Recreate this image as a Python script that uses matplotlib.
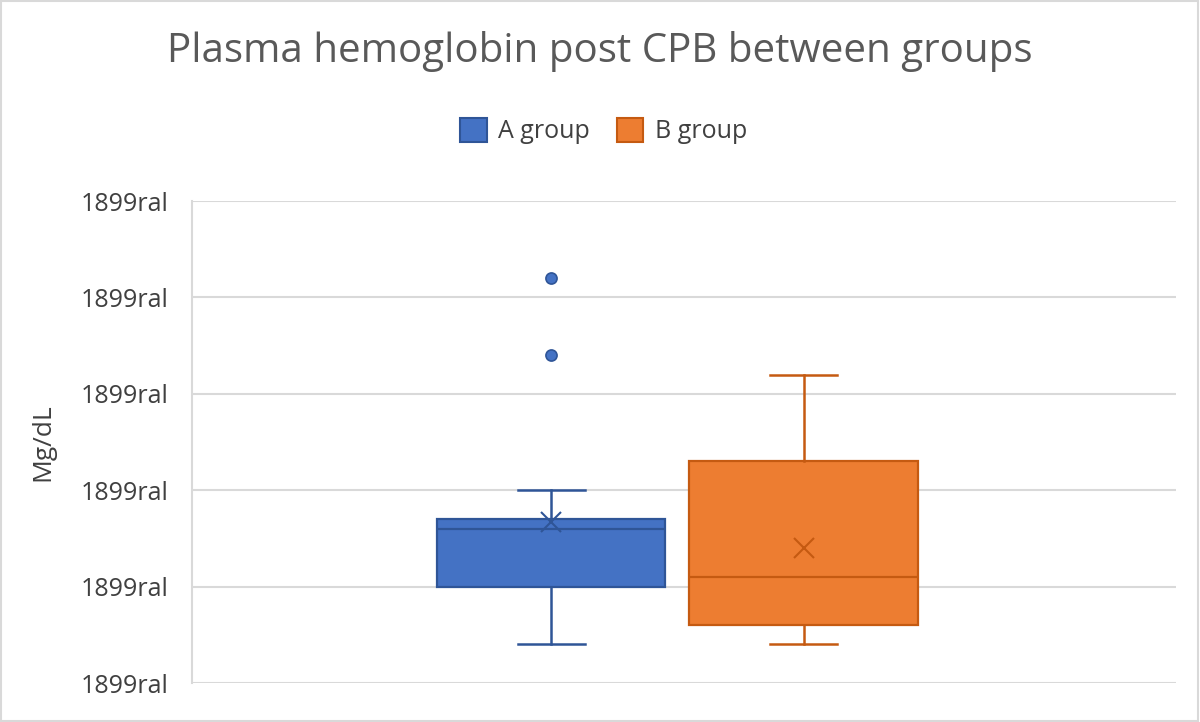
import matplotlib
matplotlib.use("Agg")
import matplotlib.pyplot as plt
from matplotlib.patches import Patch, Rectangle

# Box statistics (Excel-style box & whisker)
groups = ["A group", "B group"]
q1 = [1.0, 0.6]
med = [1.6, 1.1]
q3 = [1.7, 2.3]
means = [1.67, 1.40]
whis_lo = [0.4, 0.4]
whis_hi = [2.0, 3.2]
outliers = [[4.2, 3.4], []]
ytick_vals = [0, 1, 2, 3, 4, 5]
ytick_labels = ["1899ral"] * 6

fills = ["#4472C4", "#ED7D31"]
edges = ["#2F5597", "#C55A11"]
positions = [0.365, 0.6215]
box_w = 0.232

plt.rcParams["font.family"] = ["Open Sans", "DejaVu Sans"]

fig = plt.figure(figsize=(12, 7.22), dpi=100)
ax = fig.add_axes([0.16, 0.054, 0.82, 0.6676])

# outer chart border
fig.patches.append(Rectangle((0.001, 0.001), 0.997, 0.997, transform=fig.transFigure,
                             fill=False, edgecolor="#D9D9D9", linewidth=1.5))

stats = []
for i in range(len(groups)):
    stats.append({"label": groups[i], "q1": q1[i], "med": med[i], "q3": q3[i],
                  "mean": means[i], "whislo": whis_lo[i], "whishi": whis_hi[i],
                  "fliers": outliers[i]})

for i, s in enumerate(stats):
    ax.bxp([s], positions=[positions[i]], widths=box_w, patch_artist=True,
           showmeans=True, showfliers=True, manage_ticks=False,
           boxprops=dict(facecolor=fills[i], edgecolor=edges[i], linewidth=1.6),
           medianprops=dict(color=edges[i], linewidth=1.6),
           whiskerprops=dict(color=edges[i], linewidth=1.8),
           capprops=dict(color=edges[i], linewidth=1.8),
           capwidths=0.068,
           meanprops=dict(marker="x", markeredgecolor=edges[i], markersize=14,
                          markeredgewidth=1.5),
           flierprops=dict(marker="o", markerfacecolor=fills[i], markeredgecolor=edges[i],
                           markersize=8, markeredgewidth=1.2),
           zorder=3)

ax.set_xlim(0, 1)
ax.set_ylim(0, 5)
ax.set_xticks([])
ax.set_yticks(ytick_vals)
ax.set_yticklabels(ytick_labels, fontsize=18, color="#404040")
ax.tick_params(axis="y", length=0, pad=17)
ax.grid(axis="y", color="#D9D9D9", linewidth=1.5, zorder=0)
ax.set_axisbelow(True)
for side in ["top", "right", "bottom"]:
    ax.spines[side].set_visible(False)
ax.spines["left"].set_color("#D9D9D9")
ax.spines["left"].set_linewidth(1.5)

ax.set_ylabel("Mg/dL", fontsize=19, color="#404040", labelpad=18)

fig.text(0.5, 0.928, "Plasma hemoglobin post CPB between groups", ha="center", va="center",
         fontsize=29, color="#595959")

handles = [Patch(facecolor=fills[i], edgecolor=edges[i], linewidth=1.5) for i in range(2)]
fig.legend(handles, groups, loc="center", bbox_to_anchor=(0.503, 0.818), ncol=2, frameon=False,
           fontsize=18, handlelength=1.05, handleheight=1.05, columnspacing=1.1, handletextpad=0.45,
           labelcolor="#404040")

fig.savefig("out.png", dpi=100, facecolor="white")
